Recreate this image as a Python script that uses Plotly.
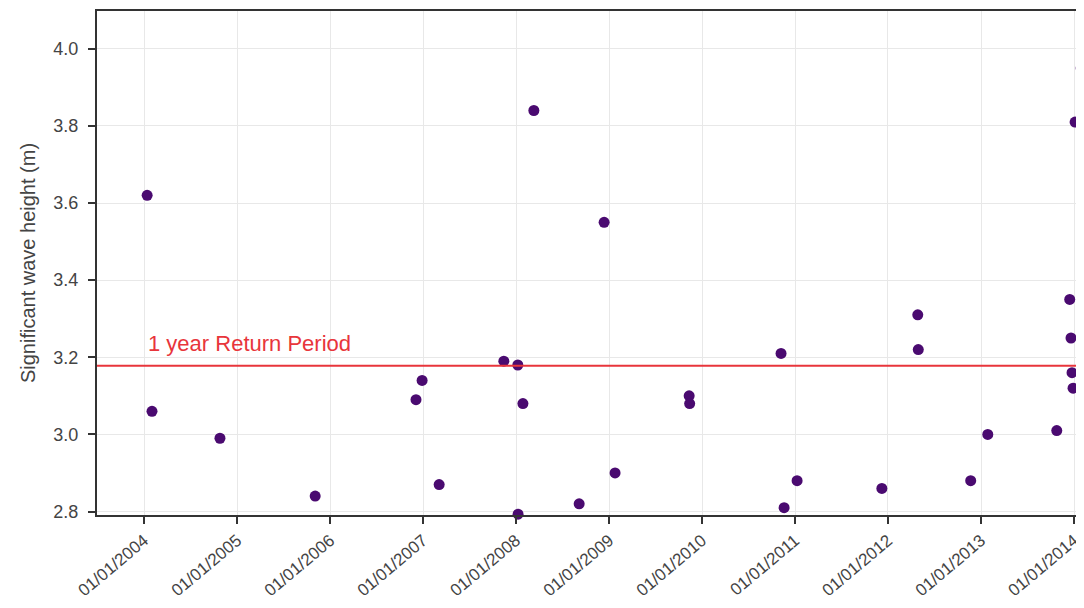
import plotly.graph_objects as go

# Storm event dates and significant wave heights (m)
event_dates = [
    "2004-01-13", "2004-02-01", "2004-10-25", "2005-11-03", "2006-12-04",
    "2006-12-28", "2007-03-05", "2007-11-14", "2008-01-08", "2008-01-09",
    "2008-01-28", "2008-03-11", "2008-09-05", "2008-12-12", "2009-01-24",
    "2009-11-11", "2009-11-13", "2010-11-07", "2010-11-19", "2011-01-09",
    "2011-12-08", "2012-04-27", "2012-04-29", "2012-11-21", "2013-01-27",
    "2013-10-25", "2013-12-15", "2013-12-20", "2013-12-24", "2013-12-28",
    "2014-01-05", "2014-01-29",
]
wave_heights = [
    3.62, 3.06, 2.99, 2.84, 3.09,
    3.14, 2.87, 3.19, 3.18, 2.793,
    3.08, 3.84, 2.82, 3.55, 2.90,
    3.10, 3.08, 3.21, 2.81, 2.88,
    2.86, 3.31, 3.22, 2.88, 3.00,
    3.01, 3.35, 3.25, 3.16, 3.12,
    3.81, 3.95,
]
# Events at the far right edge (partly clipped, reddish)
edge_dates = ["2014-02-03", "2014-02-01"]
edge_heights = [3.47, 2.89]

return_period_level = 3.178
return_period_label = "1 year Return Period"

tick_dates = [f"{y}-01-01" for y in range(2004, 2015)]
y_ticks = [2.8, 3.0, 3.2, 3.4, 3.6, 3.8, 4.0]

fig = go.Figure()
fig.add_trace(go.Scatter(
    x=event_dates, y=wave_heights, mode="markers",
    marker=dict(color="#4a0a70", size=11),
    cliponaxis=False,
    showlegend=False,
))
fig.add_trace(go.Scatter(
    x=edge_dates, y=edge_heights, mode="markers",
    marker=dict(color="#8e1a55", size=11),
    cliponaxis=False,
    showlegend=False,
))

fig.add_shape(type="line", xref="paper", x0=0, x1=1, yref="y",
              y0=return_period_level, y1=return_period_level,
              line=dict(color="#e8353b", width=2), layer="above")

font_fam = "Liberation Sans, Arial, sans-serif"
fig.add_annotation(x="2004-01-10", y=3.236, xref="x", yref="y",
                   text=return_period_label, showarrow=False,
                   xanchor="left", yanchor="middle",
                   font=dict(color="#e8353b", size=22, family=font_fam))

fig.update_layout(
    width=1076, height=592,
    margin=dict(l=89, r=0, t=3, b=85),
    paper_bgcolor="white", plot_bgcolor="white",
    font=dict(family=font_fam, color="#444444", size=18),
    xaxis=dict(
        type="date",
        range=["2003-06-30", "2014-02-09"],
        tickvals=tick_dates, tickformat="%d/%m/%Y",
        tickangle=-40,
        ticks="outside", ticklen=7, tickcolor="#333333", tickwidth=2,
        showline=True, linecolor="#333333", linewidth=2, mirror=True,
        showgrid=True, gridcolor="#e8e8e8", gridwidth=1,
        tickfont=dict(size=17, color="#444444"),
        zeroline=False,
        automargin=False,
    ),
    yaxis=dict(
        range=[2.791, 4.098],
        tickvals=y_ticks, tickformat=".1f",
        ticks="outside", ticklen=7, tickcolor="#333333", tickwidth=2,
        showline=True, linecolor="#333333", linewidth=2,
        showgrid=True, gridcolor="#e8e8e8", gridwidth=1,
        tickfont=dict(size=18, color="#444444"),
        ticklabelstandoff=6,
        title=dict(text="Significant wave height (m)", standoff=12,
                   font=dict(size=20, color="#444444")),
        zeroline=False,
    ),
)

fig.write_html("out.html")
